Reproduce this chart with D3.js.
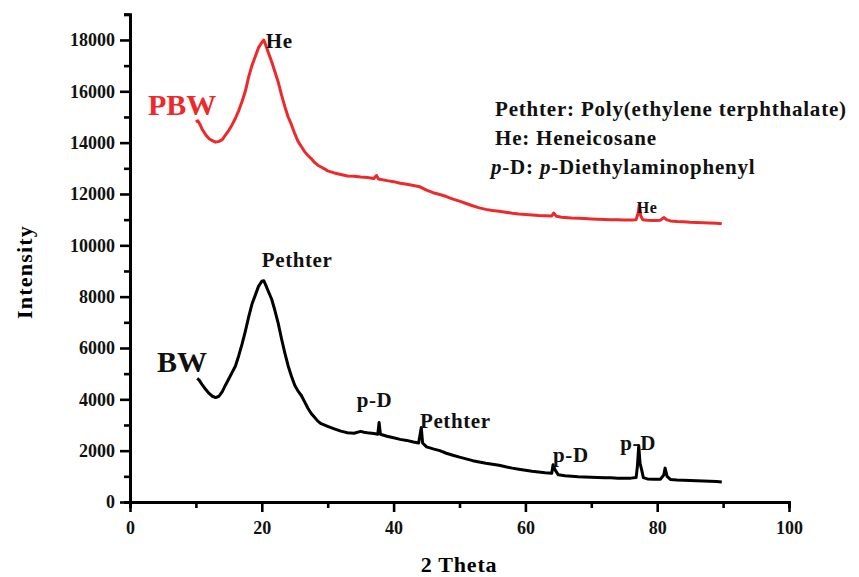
<!DOCTYPE html>
<html>
<head>
<meta charset="utf-8">
<script src="https://cdn.jsdelivr.net/npm/d3@7"></script>
<style>
  body { margin: 0; background: #fff; }
  text { font-family: "Liberation Serif", "Times New Roman", serif; font-weight: bold; }
</style>
</head>
<body>
<div id="chart"></div>
<script>
// Data: [2 theta, intensity]
const pbw_data = [
  [10.0, 14800], [10.3, 14850], [10.6, 14720], [11.0, 14500], [11.5, 14300], [12.0, 14150],
  [12.5, 14080], [13.0, 14020], [13.5, 14050], [14.0, 14120], [14.5, 14300], [15.0, 14480],
  [15.5, 14700], [16.0, 14950], [16.5, 15250], [17.0, 15600], [17.5, 16000], [18.0, 16550],
  [18.5, 17000], [19.0, 17350], [19.5, 17700], [20.0, 17900], [20.3, 18000], [20.6, 17800],
  [21.0, 17500], [21.5, 17150], [22.0, 16750], [22.5, 16350], [23.0, 15850], [23.5, 15400],
  [24.0, 15000], [24.5, 14700], [25.0, 14350], [25.5, 14050], [26.0, 13850], [26.5, 13650],
  [27.0, 13500], [27.5, 13380], [28.0, 13230], [28.5, 13120], [29.0, 13050], [29.5, 12980],
  [30.0, 12900], [31.0, 12820], [32.0, 12760], [33.0, 12700], [34.0, 12690], [35.0, 12660],
  [36.0, 12640], [37.0, 12600], [37.4, 12720], [37.7, 12580], [39.0, 12520], [40.0, 12480],
  [41.0, 12420], [42.0, 12380], [43.0, 12330], [44.0, 12280], [45.0, 12150], [46.0, 12050],
  [47.0, 11980], [48.0, 11900], [49.0, 11800], [50.0, 11720], [51.0, 11630], [52.0, 11540],
  [53.0, 11460], [54.0, 11400], [55.0, 11360], [56.0, 11330], [57.0, 11290], [58.0, 11250],
  [59.0, 11220], [60.0, 11200], [61.0, 11180], [62.0, 11160], [63.0, 11150], [64.0, 11140],
  [64.3, 11260], [64.7, 11130], [65.5, 11090], [66.0, 11080], [67.0, 11060], [68.0, 11050],
  [69.0, 11040], [70.0, 11030], [71.0, 11020], [72.0, 11010], [73.0, 11000], [74.0, 11000],
  [75.0, 10990], [76.0, 10990], [76.8, 11000], [77.1, 11250], [77.3, 11600], [77.5, 11150],
  [77.8, 11000], [78.5, 10980], [79.5, 10970], [80.5, 10980], [81.0, 11080], [81.5, 10990],
  [82.0, 10950], [83.0, 10930], [84.0, 10920], [85.0, 10900], [86.0, 10890], [87.0, 10880],
  [88.0, 10870], [89.0, 10860], [89.8, 10840]
];

const bw_data = [
  [10.2, 4810], [10.5, 4750], [11.0, 4550], [11.5, 4380], [12.0, 4230], [12.5, 4120],
  [13.0, 4070], [13.5, 4120], [14.0, 4300], [14.5, 4560], [15.0, 4800], [15.5, 5050],
  [16.0, 5300], [16.5, 5700], [17.0, 6150], [17.5, 6650], [18.0, 7200], [18.5, 7700],
  [19.0, 8050], [19.5, 8400], [20.0, 8600], [20.3, 8620], [20.6, 8450], [21.0, 8200],
  [21.5, 7900], [22.0, 7450], [22.5, 6950], [23.0, 6350], [23.5, 5800], [24.0, 5300],
  [24.5, 4900], [25.0, 4550], [25.5, 4320], [26.0, 4150], [26.5, 3900], [27.0, 3650],
  [27.5, 3450], [28.0, 3300], [28.5, 3150], [29.0, 3050], [30.0, 2950], [31.0, 2850],
  [32.0, 2760], [33.0, 2700], [34.0, 2680], [35.0, 2750], [35.5, 2720], [36.0, 2700],
  [37.0, 2670], [37.6, 2640], [37.8, 3100], [38.0, 2640], [39.0, 2560], [40.0, 2500],
  [41.0, 2440], [42.0, 2400], [43.0, 2340], [43.8, 2300], [44.0, 2600], [44.2, 2900],
  [44.4, 2300], [45.0, 2150], [46.0, 2070], [47.0, 2000], [48.0, 1900], [49.0, 1820],
  [50.0, 1750], [51.0, 1680], [52.0, 1610], [53.0, 1560], [54.0, 1510], [55.0, 1470],
  [56.0, 1430], [57.0, 1370], [58.0, 1320], [59.0, 1280], [60.0, 1240], [61.0, 1200],
  [62.0, 1170], [63.0, 1140], [64.0, 1120], [64.2, 1450], [64.5, 1250], [65.0, 1060],
  [66.0, 1020], [67.0, 1000], [68.0, 980], [69.0, 970], [70.0, 960], [71.0, 950],
  [72.0, 940], [73.0, 940], [74.0, 930], [75.0, 930], [76.0, 930], [76.8, 950],
  [77.0, 1400], [77.2, 2200], [77.4, 1500], [77.6, 1300], [77.9, 950], [78.5, 900],
  [79.5, 890], [80.5, 890], [81.0, 1050], [81.2, 1320], [81.5, 1000], [82.0, 880],
  [83.0, 860], [84.0, 850], [85.0, 840], [86.0, 830], [87.0, 820], [88.0, 810],
  [89.0, 800], [89.8, 780]
];

const x_major = [0, 20, 40, 60, 80, 100];
const x_minor = [10, 30, 50, 70, 90];
const y_major = [0, 2000, 4000, 6000, 8000, 10000, 12000, 14000, 16000, 18000];
const y_minor = [1000, 3000, 5000, 7000, 9000, 11000, 13000, 15000, 17000, 19000];

// Peak labels: [text, 2 theta, intensity]
const bw_peaks = [
  ['Pethter', 20.0, 9150],
  ['p-D', 34.4, 3700],
  ['Pethter', 44.0, 2900],
  ['p-D', 64.2, 1560],
  ['p-D', 74.4, 2030]
];
const pbw_peaks = [['He', 20.6, 17700]];
const pbw_small_peaks = [['He', 76.9, 11260]];

const legend_lines = [
  [['Pethter: Poly(ethylene terphthalate)', false]],
  [['He: Heneicosane', false]],
  [['p', true], ['-D: ', false], ['p', true], ['-Diethylaminophenyl', false]]
];

//////////////////////////////////////
// Canvas
//////////////////////////////////////

const WIDTH = 859;
const HEIGHT = 577;
const RED = '#ec2a2c';

let svg = d3.select('#chart').append('svg')
  .attr('width', WIDTH)
  .attr('height', HEIGHT);

let x = d3.scaleLinear().domain([0, 100]).range([130, 789]);
let y = d3.scaleLinear().domain([0, 19000]).range([502, 14.3]);

function style_axis (g) {
  g.select('.domain').attr('stroke-width', 3).attr('stroke', '#000');
  g.selectAll('.tick line').attr('stroke-width', 2.6).attr('stroke', '#000');
  g.selectAll('.tick text')
    .attr('font-size', 18)
    .attr('fill', '#111');
}

// Minor ticks first, then the major ticks with labels
svg.append('g')
  .attr('transform', 'translate(0,' + y(0) + ')')
  .call(d3.axisBottom(x).tickValues(x_minor).tickSize(6).tickFormat(''))
  .call(style_axis);
svg.append('g')
  .attr('transform', 'translate(0,' + y(0) + ')')
  .call(d3.axisBottom(x).tickValues(x_major).tickSize(10).tickPadding(9).tickSizeOuter(0).tickFormat(d3.format('d')))
  .call(style_axis);

svg.append('g')
  .attr('transform', 'translate(' + x(0) + ',0)')
  .call(d3.axisLeft(y).tickValues(y_minor).tickSize(6).tickFormat(''))
  .call(style_axis);
svg.append('g')
  .attr('transform', 'translate(' + x(0) + ',0)')
  .call(d3.axisLeft(y).tickValues(y_major).tickSize(10).tickPadding(5).tickSizeOuter(0).tickFormat(d3.format('d')))
  .call(style_axis);

// Axis titles
svg.append('text')
  .attr('x', 459).attr('y', 572)
  .attr('text-anchor', 'middle')
  .attr('font-size', 22)
  .attr('letter-spacing', 0.8)
  .text('2 Theta');
svg.append('text')
  .attr('transform', 'translate(32,272)rotate(-90)')
  .attr('text-anchor', 'middle')
  .attr('font-size', 22)
  .attr('letter-spacing', 1.2)
  .text('Intensity');

//////////////////////////////////////
// Curves
//////////////////////////////////////

let line = d3.line()
  .x(d => x(d[0]))
  .y(d => y(d[1]));

svg.append('path')
  .datum(pbw_data)
  .attr('d', line)
  .attr('fill', 'none')
  .attr('stroke', RED)
  .attr('stroke-width', 3)
  .attr('stroke-linejoin', 'round');

svg.append('path')
  .datum(bw_data)
  .attr('d', line)
  .attr('fill', 'none')
  .attr('stroke', '#000')
  .attr('stroke-width', 3)
  .attr('stroke-linejoin', 'round');

//////////////////////////////////////
// Labels
//////////////////////////////////////

function peak_labels (list, size) {
  list.forEach(p => {
    svg.append('text')
      .attr('x', x(p[1]))
      .attr('y', y(p[2]))
      .attr('font-size', size)
      .attr('letter-spacing', 0.6)
      .attr('fill', '#111')
      .text(p[0]);
  });
}
peak_labels(bw_peaks, 21);
peak_labels(pbw_peaks, 21);
peak_labels(pbw_small_peaks, 16);

svg.append('text')
  .attr('x', 148).attr('y', 115)
  .attr('font-size', 30)
  .attr('fill', RED)
  .text('PBW');
svg.append('text')
  .attr('x', 157).attr('y', 372)
  .attr('font-size', 30)
  .attr('fill', '#111')
  .text('BW');

legend_lines.forEach((parts, i) => {
  let t = svg.append('text')
    .attr('x', i == 2 ? 491 : 495)
    .attr('y', 116 + i * 29)
    .attr('font-size', 21)
    .attr('letter-spacing', 0.8)
    .attr('fill', '#111');
  parts.forEach(p => {
    t.append('tspan')
      .attr('font-style', p[1] ? 'italic' : 'normal')
      .text(p[0]);
  });
});
</script>
</body>
</html>
